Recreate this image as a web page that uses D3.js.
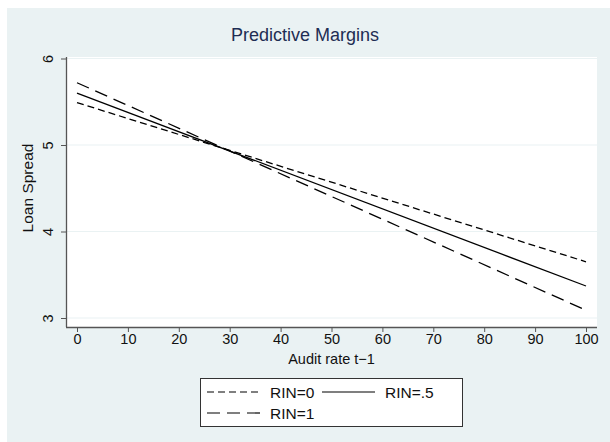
<!DOCTYPE html>
<html>
<head>
<meta charset="utf-8">
<script src="https://cdn.jsdelivr.net/npm/d3@7"></script>
<style>
  body { margin: 0; background: #fff; }
  svg { display: block; font-family: "Liberation Sans", Arial, sans-serif; }
</style>
</head>
<body>
<svg id="chart" width="610" height="442"></svg>
<script>
// audit rate end points, predicted loan spread per RIN level
const xs = [0, 100]
const rin0 = [5.49, 3.65]
const rin5 = [5.60, 3.37]
const rin1 = [5.72, 3.09]
const xTicks = [0, 10, 20, 30, 40, 50, 60, 70, 80, 90, 100]
const yTicks = [3, 4, 5, 6]

const series = [
  { name: 'RIN=0', vals: rin0, dash: '7,4' },
  { name: 'RIN=.5', vals: rin5, dash: null },
  { name: 'RIN=1', vals: rin1, dash: '13,7' }
]

const svg = d3.select('#chart')
const L = 66, R = 597, T = 57, B = 327

svg.append('rect')
  .attr('x', 7).attr('y', 8).attr('width', 603).attr('height', 434)
  .attr('fill', '#eaf2f3')

svg.append('rect')
  .attr('x', L).attr('y', T).attr('width', R - L).attr('height', B - T)
  .attr('fill', '#fff')

const x = d3.scaleLinear().domain([0, 100]).range([77, 586])
const y = d3.scaleLinear().domain([3, 6]).range([318, 58.5])

// grid
svg.append('g').selectAll('line')
  .data(yTicks)
  .enter().append('line')
    .attr('x1', L).attr('x2', R)
    .attr('y1', d => y(d)).attr('y2', d => y(d))
    .attr('stroke', '#eaf2f3').attr('stroke-width', 1.2)

// lines
const line = d3.line()
  .x((d, i) => x(xs[i]))
  .y(d => y(d))

svg.append('g').selectAll('path')
  .data(series)
  .enter().append('path')
    .attr('d', d => line(d.vals))
    .attr('fill', 'none')
    .attr('stroke', '#000')
    .attr('stroke-width', 1.3)
    .attr('stroke-dasharray', d => d.dash)

// axes
const xAxis = svg.append('g')
  .attr('transform', `translate(0,${B})`)
  .call(d3.axisBottom(x).tickValues(xTicks).tickSize(5).tickSizeOuter(0))
xAxis.select('.domain').attr('d', `M${L},0.5H${R}`).attr('stroke', '#555').attr('stroke-width', 1.3)
xAxis.selectAll('.tick line').attr('stroke', '#555')
xAxis.selectAll('.tick text').attr('font-size', 14.5).attr('fill', '#111').attr('dy', '0.6em')

const yAxis = svg.append('g')
  .attr('transform', `translate(${L},0)`)
  .call(d3.axisLeft(y).tickValues(yTicks).tickFormat(d3.format('d')).tickSize(5).tickSizeOuter(0))
yAxis.select('.domain').attr('d', `M0.5,${T}V${B}`).attr('stroke', '#555').attr('stroke-width', 1.3)
yAxis.selectAll('.tick line').attr('stroke', '#555')
yAxis.selectAll('.tick text')
  .attr('font-size', 14.5).attr('fill', '#111')
  .attr('x', 0).attr('y', -13).attr('dy', null)
  .attr('text-anchor', 'middle')
  .attr('transform', 'rotate(-90)')

// titles
svg.append('text')
  .attr('x', 305).attr('y', 41)
  .attr('text-anchor', 'middle')
  .attr('font-size', 18).attr('fill', '#1e2d53')
  .text('Predictive Margins')

svg.append('text')
  .attr('x', (L + R) / 2).attr('y', 364)
  .attr('text-anchor', 'middle')
  .attr('font-size', 14.5).attr('fill', '#111')
  .text('Audit rate t\u22121')

svg.append('text')
  .attr('transform', `translate(33,188) rotate(-90)`)
  .attr('text-anchor', 'middle')
  .attr('font-size', 15.5).attr('fill', '#111')
  .text('Loan Spread')

// legend
const lg = svg.append('g')
lg.append('rect')
  .attr('x', 200.5).attr('y', 378.5).attr('width', 262).attr('height', 48)
  .attr('fill', '#fff').attr('stroke', '#333').attr('stroke-width', 1)

const pos = [[207, 392], [322, 392], [207, 413]]
series.forEach((s, i) => {
  const [px, py] = pos[i]
  lg.append('line')
    .attr('x1', px).attr('x2', px + 53)
    .attr('y1', py).attr('y2', py)
    .attr('stroke', '#000').attr('stroke-width', 1.2)
    .attr('stroke-dasharray', s.dash)
  lg.append('text')
    .attr('x', px + 63).attr('y', py + 5.5)
    .attr('font-size', 15.5).attr('fill', '#111')
    .text(s.name)
})
</script>
</body>
</html>
